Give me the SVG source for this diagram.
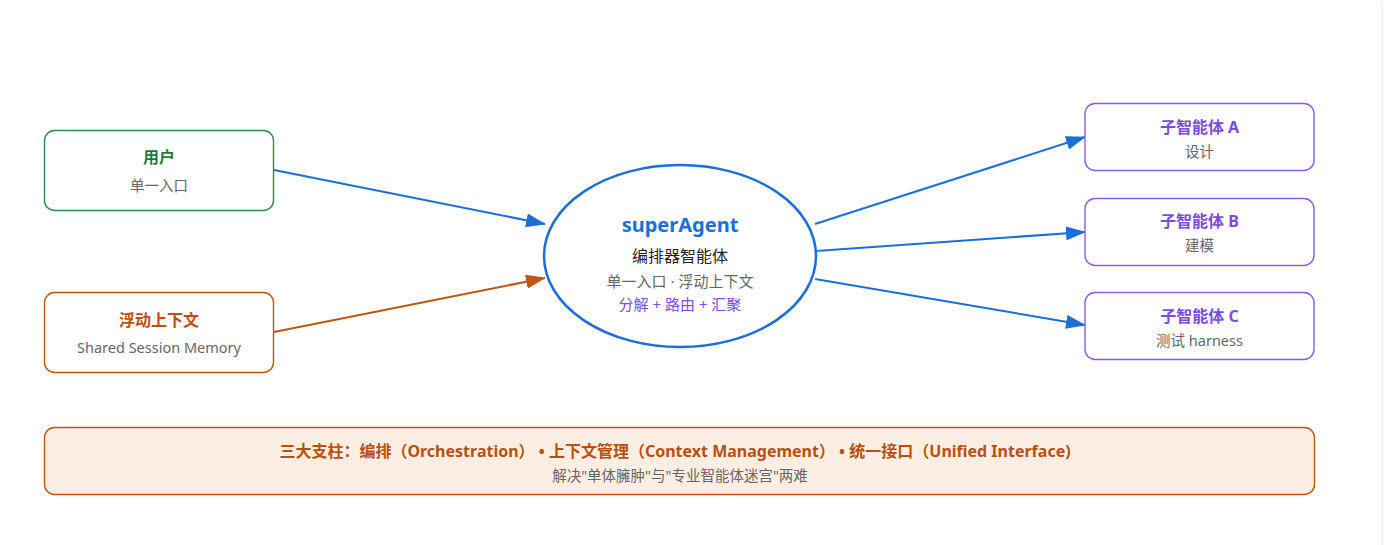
<svg xmlns="http://www.w3.org/2000/svg" width="1393" height="545" viewBox="0 0 1393 545">
<style>
text{font-family:"Noto Sans","Noto Sans CJK SC",sans-serif;text-anchor:middle}
.box{fill:#fff;stroke-width:1.4}
.t{font-size:16px;font-weight:bold}
.s{font-size:14.5px;fill:#666}
.conn{fill:none;stroke-width:2}
</style>
<defs>
<marker id="arB" viewBox="0 0 20 14" refX="19" refY="7" markerWidth="20" markerHeight="14" markerUnits="userSpaceOnUse" orient="auto">
<path d="M0,0 L20,7 L0,14 z" fill="#1a6fd9"/>
</marker>
<marker id="arO" viewBox="0 0 20 14" refX="19" refY="7" markerWidth="20" markerHeight="14" markerUnits="userSpaceOnUse" orient="auto">
<path d="M0,0 L20,7 L0,14 z" fill="#c0550f"/>
</marker>
<radialGradient id="glow" cx="50%" cy="50%" r="50%">
<stop offset="85%" stop-color="#eaf3ff" stop-opacity="0.8"/>
<stop offset="100%" stop-color="#ffffff" stop-opacity="0"/>
</radialGradient>
</defs>
<rect x="-20" y="-6" width="1402.5" height="600" rx="14" fill="#fff" stroke="#e2e6ee" stroke-width="1"/>

<g id="connectors">
<line class="conn" x1="274" y1="170" x2="545" y2="224" stroke="#1a6fd9" marker-end="url(#arB)"/>
<line class="conn" x1="274" y1="332" x2="545" y2="278" stroke="#c0550f" marker-end="url(#arO)"/>
<line class="conn" x1="815" y1="224" x2="1085" y2="137" stroke="#1a6fd9" marker-end="url(#arB)"/>
<line class="conn" x1="816" y1="251" x2="1085" y2="232" stroke="#1a6fd9" marker-end="url(#arB)"/>
<line class="conn" x1="815" y1="279" x2="1085" y2="325" stroke="#1a6fd9" marker-end="url(#arB)"/>
</g>

<g id="user">
<rect class="box" x="44.5" y="130.5" width="229" height="80" rx="10" stroke="#2e8b4e"/>
<text class="t" x="159" y="163" fill="#1e7a3c">用户</text>
<text class="s" x="159" y="191">单一入口</text>
</g>

<g id="context">
<rect class="box" x="44.5" y="292.5" width="229" height="80" rx="10" stroke="#c0550f"/>
<text class="t" x="159" y="326" fill="#b8500c">浮动上下文</text>
<text class="s" x="159" y="353" font-size="15">Shared Session Memory</text>
</g>

<g id="superAgent">
<ellipse cx="680" cy="256" rx="142" ry="97" fill="url(#glow)"/>
<ellipse cx="680" cy="256" rx="136" ry="91" fill="#fff" stroke="#1a6fd9" stroke-width="2.5"/>
<text x="680" y="232" font-size="20" font-weight="bold" fill="#1a6fd9">superAgent</text>
<text x="680" y="262" font-size="16" fill="#222">编排器智能体</text>
<text x="680" y="287" font-size="15" fill="#666">单一入口 · 浮动上下文</text>
<text x="680" y="310" font-size="15" fill="#7c4ddb">分解 + 路由 + 汇聚</text>
</g>

<g id="agentA">
<rect class="box" x="1085" y="103.5" width="229" height="67" rx="10" stroke="#8a5ce6"/>
<text class="t" x="1199.5" y="133" fill="#7c4ddb" font-size="16.5">子智能体 A</text>
<text class="s" x="1199.5" y="157">设计</text>
</g>
<g id="agentB">
<rect class="box" x="1085" y="198.5" width="229" height="67" rx="10" stroke="#8a5ce6"/>
<text class="t" x="1199.5" y="227" fill="#7c4ddb" font-size="16.5">子智能体 B</text>
<text class="s" x="1199.5" y="251">建模</text>
</g>
<g id="agentC">
<rect class="box" x="1085" y="292.5" width="229" height="67" rx="10" stroke="#8a5ce6"/>
<text class="t" x="1199.5" y="322" fill="#7c4ddb" font-size="16.5">子智能体 C</text>
<text class="s" x="1199.5" y="346" font-size="15">测试 harness</text>
</g>

<g id="pillars">
<rect x="44.5" y="427.5" width="1270" height="67" rx="10" fill="#fdeee3" stroke="#c0550f" stroke-width="1.4"/>
<text class="t" x="675" y="457" fill="#b8500c" font-size="16">三大支柱：编排（Orchestration） • 上下文管理（Context Management） • 统一接口（Unified Interface)</text>
<text x="680" y="481" font-size="14.5" fill="#666">解决"单体臃肿"与"专业智能体迷宫"两难</text>
</g>
</svg>
